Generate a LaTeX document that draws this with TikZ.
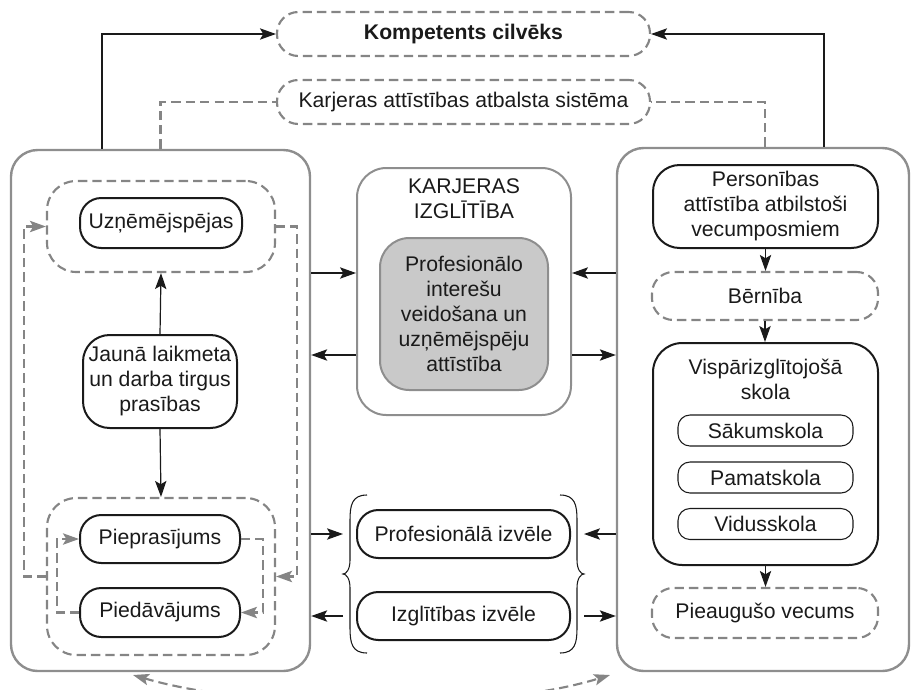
\documentclass[tikz,border=0pt]{standalone}
\usepackage{fontspec}
\setmainfont{Liberation Sans}
\usetikzlibrary{arrows.meta}
\definecolor{framec}{HTML}{8E8E8E}
\definecolor{dashc}{HTML}{858585}
\definecolor{fillc}{HTML}{C9C9C9}
\definecolor{ink}{HTML}{1A1A1A}

\begin{document}
\begin{tikzpicture}[x=0.75pt,y=-0.75pt,
  every node/.style={font=\fontsize{15.9}{18.75}\selectfont, text=ink, align=center, inner sep=0pt},
  pill/.style={draw=ink, line width=1.5pt, rounded corners=16pt},
  dashbox/.style={draw=dashc, line width=1.6pt, dash pattern=on 7pt off 3.8pt, rounded corners=16pt},
  framebox/.style={draw=framec, line width=1.8pt, rounded corners=20pt},
  smallbox/.style={draw=ink, line width=0.8pt, rounded corners=9pt},
  tip/.style={-{Stealth[length=12pt,width=8.5pt,inset=2.5pt]}},
  arr/.style={draw=ink, line width=0.9pt, tip},
  gline/.style={draw=dashc, line width=1.6pt, dash pattern=on 7pt off 3.8pt},
  garr/.style={gline, tip},
]
\useasboundingbox (0,0) rectangle (912,689);

% row levels of the horizontal connectors
\coordinate (r1) at (0,273);
\coordinate (r2) at (0,355);
\coordinate (r3) at (0,534);
\coordinate (r4) at (0,616);

% top goal and support system
\node[dashbox, minimum width=279.75pt, minimum height=33pt, font=\fontsize{15.9}{18.75}\selectfont\bfseries] (komp) at (463.5,34) {Kompetents cilvēks};
\node[dashbox, minimum width=279.75pt, minimum height=33pt] (karj) at (463.5,102) {Karjeras attīstības atbalsta sistēma};

% three main columns
\node[framebox, minimum width=224.25pt, minimum height=390.75pt] (lbox) at (160.5,410.5) {};
\node[framebox, minimum width=219pt, minimum height=392.25pt] (rbox) at (763,409.5) {};
\node[framebox, rounded corners=22pt, line width=1.5pt, minimum width=160.5pt, minimum height=185.25pt] (kbox) at (464,291.5) {};
\node (ktitle) at (464,199) {KARJERAS\\IZGLĪTĪBA};
\node[draw=framec, fill=fillc, line width=1.5pt, rounded corners=22pt, minimum width=126pt, minimum height=114pt] (kin) at (464,314)
  {Profesionālo\\interešu\\veidošana un\\uzņēmējspēju\\attīstība};

% left column
\node[dashbox, rounded corners=22pt, minimum width=171pt, minimum height=68.25pt] (tg) at (161,226.5) {};
\node[pill, minimum width=121.5pt, minimum height=37.5pt] (uzn) at (161,223) {Uzņēmējspējas};
\node[pill, rounded corners=20pt, minimum width=115.5pt, minimum height=69.75pt] (jauna) at (160,381.5) {Jaunā laikmeta\\un darba tirgus\\prasības};
\node[dashbox, rounded corners=22pt, minimum width=171pt, minimum height=117.75pt] (bg) at (161,576.5) {};
\node[pill, minimum width=120pt, minimum height=36pt] (piepr) at (160,539) {Pieprasījums};
\node[pill, minimum width=120pt, minimum height=36.75pt] (pieda) at (160,612.5) {Piedāvājums};

% middle choices
\node[pill, minimum width=159.75pt, minimum height=36pt] (profiz) at (463.5,534) {Profesionālā izvēle};
\node[pill, minimum width=159.75pt, minimum height=36pt] (izgliz) at (463.5,616) {Izglītības izvēle};
\coordinate (lbr) at (343,574);
\coordinate (rbr) at (584,574);
\draw[ink, line width=0.8pt] (367,495) .. controls (352,495) and (350,505) .. (350,520) -- (350,560)
  .. controls (350,570) and (346,574) .. (lbr) .. controls (346,574) and (350,578) .. (350,588)
  -- (350,628) .. controls (350,643) and (352,653) .. (367,653);
\draw[ink, line width=0.8pt] (560,495) .. controls (575,495) and (577,505) .. (577,520) -- (577,560)
  .. controls (577,570) and (581,574) .. (rbr) .. controls (581,574) and (577,578) .. (577,588)
  -- (577,628) .. controls (577,643) and (575,653) .. (560,653);

% right column
\node[pill, rounded corners=20pt, minimum width=168.75pt, minimum height=62.25pt] (pers) at (765.5,206.5) {Personības\\attīstība atbilstoši\\vecumposmiem};
\node[dashbox, minimum width=169.5pt, minimum height=36pt] (bern) at (765,296) {Bērnība};
\node[pill, rounded corners=22pt, minimum width=168.75pt, minimum height=166.5pt] (visp) at (765.5,454) {};
\node (vtitle) at (765.5,379.5) {Vispārizglītojošā\\skola};
\node[smallbox, minimum width=131.25pt, minimum height=23.25pt] (sak) at (765.5,430.5) {Sākumskola};
\node[smallbox, minimum width=131.25pt, minimum height=23.25pt] (pam) at (765.5,477.5) {Pamatskola};
\node[smallbox, minimum width=131.25pt, minimum height=23.25pt] (vid) at (765.5,524) {Vidusskola};
\node[dashbox, minimum width=169.5pt, minimum height=37.5pt] (pieaug) at (765,613) {Pieaugušo vecums};

% links to the top boxes
\draw[arr] (lbox.north) ++(-58.5,0) |- (komp.west);
\draw[gline] (lbox.north) |- (karj.west);
\draw[arr] (rbox.north) ++(61,0) |- (komp.east);
\draw[gline] (rbox.north) ++(2,0) |- (karj.east);

% exchanges with career education
\draw[arr] (lbox.east |- r1) -- (kbox.west |- r1);
\draw[arr] (kbox.west |- r2) -- (lbox.east |- r2);
\draw[arr] (rbox.west |- r1) -- (kbox.east |- r1);
\draw[arr] (kbox.east |- r2) -- (rbox.west |- r2);

% exchanges with the choices
\draw[arr] (lbox.east |- r3) -- (lbr |- r3);
\draw[arr] (lbr |- r4) -- (lbox.east |- r4);
\draw[arr] (rbox.west |- r3) -- (rbr |- r3);
\draw[arr] (rbr |- r4) -- (rbox.west |- r4);

% left column flows
\draw[arr] (jauna.north) -- (tg.south);
\draw[arr] (jauna.south) -- (bg.north);
\draw[garr] (bg.west) -- ++(-22,0) |- (tg.west);
\draw[garr] (tg.east) -- ++(21,0) |- (bg.east);
\draw[garr] (pieda.west) -- ++(-22,0) |- (piepr.west);
\draw[garr] (piepr.east) -- ++(22,0) |- (pieda.east);

% right column flows
\draw[arr] (pers.south) -- (pers.south |- bern.north);
\draw[arr] (bern.south) -- (bern.south |- visp.north);
\draw[arr] (visp.south) -- (visp.south |- pieaug.north);

% loop between the two columns along the bottom
\coordinate (cl) at (133,675);
\coordinate (cr) at (610,675);
\draw[gline, {Stealth[length=12pt,width=8.5pt,inset=2.5pt]}-{Stealth[length=12pt,width=8.5pt,inset=2.5pt]}]
  (cl) .. controls (260,712) and (490,712) .. (cr);
\end{tikzpicture}
\end{document}
